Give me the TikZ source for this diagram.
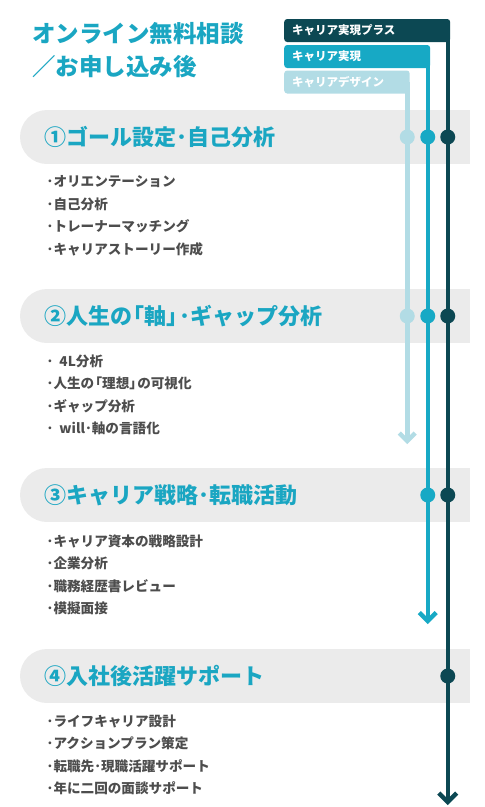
\documentclass[tikz,border=0pt]{standalone}
\usepackage{fontspec}
\newfontfamily\jp{Noto Sans CJK JP}
\usetikzlibrary{calc}
\definecolor{cdark}{HTML}{0C4853}
\definecolor{cmid}{HTML}{17A9C5}
\definecolor{clight}{HTML}{B2DCE5}
\definecolor{ctitle}{HTML}{1AA6C2}
\definecolor{cband}{HTML}{EBEBEB}
\definecolor{ctext}{HTML}{4D4D4D}
\newcommand{\lbr}{\kern-0.42em「}
\newcommand{\rbr}{」\kern-0.42em}
\tikzset{
  track/.style={line width=4.5pt},
  chev/.style={line width=4.5pt, line join=miter, line cap=butt},
  dot/.style={circle, inner sep=0pt, minimum size=15pt, draw=none},
  lbl/.style={rounded corners=3pt, inner xsep=8pt, inner ysep=0pt, minimum height=23pt, text=white, align=left, anchor=west, font=\jp\bfseries\fontsize{11.5}{12}\selectfont},
  maintitle/.style={anchor=west, inner sep=0pt, text=ctitle, font=\jp\bfseries\fontsize{23.5}{26}\selectfont},
  sectitle/.style={anchor=west, inner sep=0pt, text=ctitle, font=\jp\bfseries\fontsize{22}{24}\selectfont},
  item/.style={anchor=west, inner sep=0pt, text=ctext, font=\jp\bfseries\fontsize{13.6}{15}\selectfont},
}
\begin{document}
\begin{tikzpicture}[x=1pt,y=-1pt]
\useasboundingbox (0,0) rectangle (485,807);
% main title
\node[maintitle] (t1) at (32,33.5) {オンライン無料相談};
\node[maintitle] (t2) at (32,66.5) {／お申し込み後};
% banners
\foreach \yy in {137,316,495,676}{
  \fill[cband] (47,\yy-27) rectangle (470,\yy+27);
  \fill[cband] (47,\yy) circle (27pt);
}
% label boxes
\node[lbl, fill=cdark, text width=150pt] (ldark) at (284,30.5) {キャリア実現プラス};
\node[lbl, fill=cmid, text width=130pt] (lmid) at (284,56.5) {キャリア実現};
\node[lbl, fill=clight, text width=109.5pt] (llight) at (284,82) {キャリアデザイン};
% track ends
\coordinate (tl) at (407.25,441);
\coordinate (tm) at (427.75,621);
\coordinate (td) at (447.75,802);
\draw[track, clight] (llight.east -| tl) -- (tl);
\draw[track, cmid] (lmid.east -| tm) -- (tm);
\draw[track, cdark] (ldark.east -| td) -- (td);
\draw[chev, clight] ($(tl)+(-8,-8)$) -- (tl) -- ($(tl)+(8,-8)$);
\draw[chev, cmid] ($(tm)+(-8.5,-8.5)$) -- (tm) -- ($(tm)+(8.5,-8.5)$);
\draw[chev, cdark] ($(td)+(-9,-9)$) -- (td) -- ($(td)+(9,-9)$);
% dots
\node[dot, fill=clight] (dl1) at (407.25,137) {};
\node[dot, fill=clight] (dl2) at (407.25,316) {};
\node[dot, fill=cmid] (dm1) at (427.75,137) {};
\node[dot, fill=cmid] (dm2) at (427.75,316) {};
\node[dot, fill=cmid] (dm3) at (427.75,495) {};
\node[dot, fill=cdark] (dd1) at (447.75,137) {};
\node[dot, fill=cdark] (dd2) at (447.75,316) {};
\node[dot, fill=cdark] (dd3) at (447.75,495) {};
\node[dot, fill=cdark] (dd4) at (447.75,676) {};
% section titles
\node[sectitle] (s1) at (44,137) {①ゴール設定･自己分析};
\node[sectitle] (s2) at (44,316) {②人生の\lbr 軸\rbr ･ギャップ分析};
\node[sectitle] (s3) at (44,495) {③キャリア戦略･転職活動};
\node[sectitle] (s4) at (44,676) {④入社後活躍サポート};
% items
\node[item] (i11) at (46.5,181.5) {･オリエンテーション};
\node[item] (i12) at (46.5,204) {･自己分析};
\node[item] (i13) at (46.5,226.5) {･トレーナーマッチング};
\node[item] (i14) at (46.5,249) {･キャリアストーリー作成};
\node[item] (i21) at (46.5,361) {･\hspace{6pt}4L分析};
\node[item] (i22) at (46.5,383.5) {･人生の\lbr 理想\rbr の可視化};
\node[item] (i23) at (46.5,406) {･ギャップ分析};
\node[item] (i24) at (46.5,428.5) {･\hspace{6pt}will･軸の言語化};
\node[item] (i31) at (46.5,541) {･キャリア資本の戦略設計};
\node[item] (i32) at (46.5,563.5) {･企業分析};
\node[item] (i33) at (46.5,586) {･職務経歴書レビュー};
\node[item] (i34) at (46.5,608.5) {･模擬面接};
\node[item] (i41) at (46.5,721) {･ライフキャリア設計};
\node[item] (i42) at (46.5,743.5) {･アクションプラン策定};
\node[item] (i43) at (46.5,766) {･転職先･現職活躍サポート};
\node[item] (i44) at (46.5,788.5) {･年に二回の面談サポート};
\end{tikzpicture}
\end{document}
